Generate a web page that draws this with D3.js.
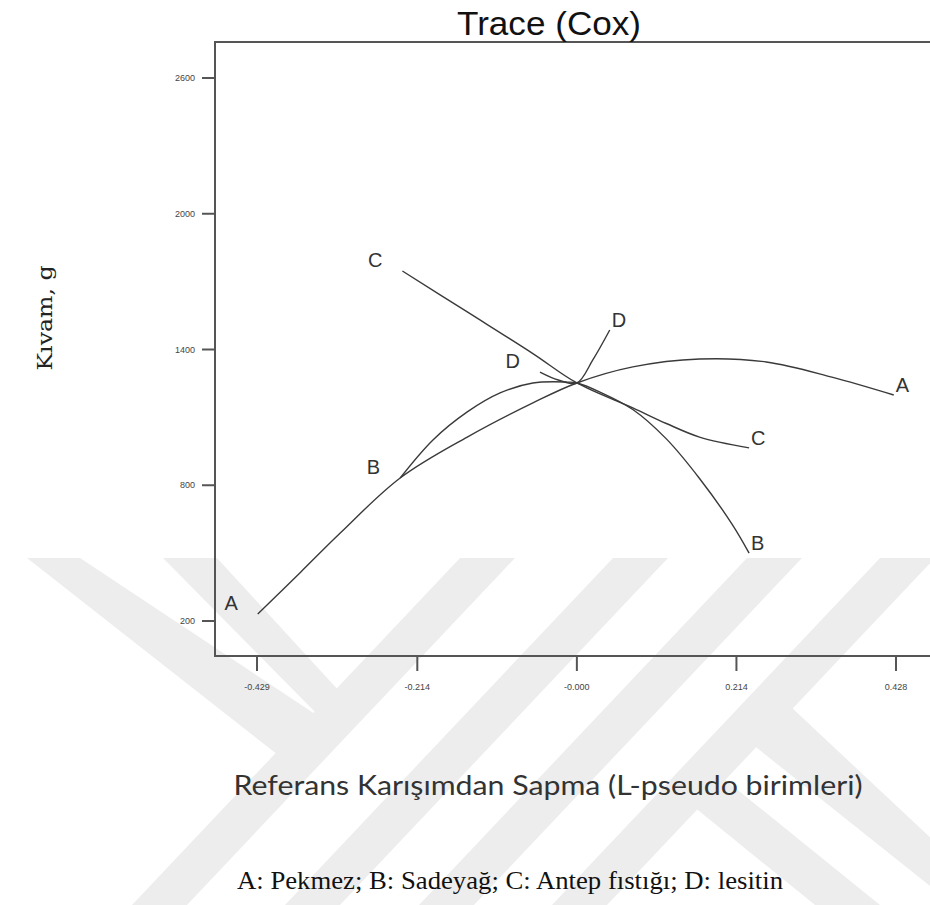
<!DOCTYPE html>
<html>
<head>
<meta charset="utf-8">
<script src="https://cdn.jsdelivr.net/npm/d3@7"></script>
<style>
  body { margin: 0; background: #fff; }
  svg { display: block; }
</style>
</head>
<body>
<div id="chart"></div>
<script>
// series names and values
const seriesNames = ["A", "B", "C", "D"];
const xA = [-0.428, -0.3705, -0.317, -0.237, -0.147, -0.059, 0, 0.075, 0.1645, 0.254, 0.342, 0.425];
const yA = [231, 416, 590, 832, 1013, 1164, 1252, 1323, 1358, 1345, 1278, 1199];
const xB = [-0.237, -0.193, -0.147, -0.103, -0.059, -0.013, 0, 0.031, 0.075, 0.12, 0.1645, 0.2087, 0.231];
const yB = [832, 1000, 1124, 1208, 1252, 1256, 1252, 1212, 1135, 1005, 830, 625, 500];
const xC = [-0.234, -0.147, -0.059, 0, 0.075, 0.12, 0.1645, 0.231];
const yC = [1747, 1566, 1382, 1252, 1142, 1073, 1013, 965];
const xD = [-0.0495, -0.025, 0, 0.0214, 0.0441];
const yD = [1300, 1265, 1252, 1354, 1486];

const xTicks = [-0.429, -0.214, 0, 0.214, 0.428];
const xTickLabels = ["-0.429", "-0.214", "-0.000", "0.214", "0.428"];
const yTicks = [200, 800, 1400, 2000, 2600];

const width = 930;
const height = 905;

const svg = d3
  .select("#chart")
  .append("svg")
  .attr("width", width)
  .attr("height", height)
  .attr("viewBox", [0, 0, width, height]);

// faint watermark in the background (decoration, not data)
const wm = svg.append("g").attr("fill", "#ededed");
const wmShapes = [
  [[460, 558], [515, 558], [187, 905], [132, 905]],
  [[613, 558], [668, 558], [340, 905], [285, 905]],
  [[747, 558], [802, 558], [474, 905], [419, 905]],
  [[880, 558], [935, 558], [607, 905], [552, 905]],
  [[27, 558], [80, 558], [321, 718], [278, 755]],
  [[163, 558], [217, 558], [340, 692], [321, 718]],
  [[752, 744], [790, 706], [935, 842], [935, 890]],
  [[688, 802], [718, 774], [880, 905], [815, 905]]
];
wm.selectAll("polygon")
  .data(wmShapes)
  .join("polygon")
  .attr("points", (d) => d.map((p) => p.join(",")).join(" "));

// scales
const x = d3.scaleLinear().domain([-0.429, 0.428]).range([257, 896]);
const y = d3.scaleLinear().domain([200, 2600]).range([621, 78]);

const box = { left: 215, top: 42, bottom: 656, right: 945 };

// frame
svg
  .append("path")
  .attr("d", `M${box.right},${box.top}H${box.left}V${box.bottom}H${box.right}`)
  .attr("fill", "none")
  .attr("stroke", "#555")
  .attr("stroke-width", 2);

// x axis ticks
const xAxis = svg.append("g").attr("transform", `translate(0,${box.bottom})`);
xAxis
  .selectAll("line")
  .data(xTicks)
  .join("line")
  .attr("x1", (d) => x(d))
  .attr("x2", (d) => x(d))
  .attr("y1", 0)
  .attr("y2", 15)
  .attr("stroke", "#555")
  .attr("stroke-width", 2);
xAxis
  .selectAll("text")
  .data(xTicks)
  .join("text")
  .attr("x", (d) => x(d))
  .attr("y", 34)
  .attr("text-anchor", "middle")
  .attr("font-family", "Liberation Sans Narrow, Arial, sans-serif")
  .attr("font-size", 9)
  .attr("fill", "#444")
  .text((d, i) => xTickLabels[i]);

// y axis ticks
const yAxis = svg.append("g").attr("transform", `translate(${box.left},0)`);
yAxis
  .selectAll("line")
  .data(yTicks)
  .join("line")
  .attr("x1", -13)
  .attr("x2", 0)
  .attr("y1", (d) => y(d))
  .attr("y2", (d) => y(d))
  .attr("stroke", "#555")
  .attr("stroke-width", 2);
yAxis
  .selectAll("text")
  .data(yTicks)
  .join("text")
  .attr("x", -20)
  .attr("y", (d) => y(d) + 3)
  .attr("text-anchor", "end")
  .attr("font-family", "Liberation Sans Narrow, Arial, sans-serif")
  .attr("font-size", 9)
  .attr("fill", "#444")
  .text((d) => d);

// traces
const series = [
  { name: seriesNames[0], xs: xA, ys: yA },
  { name: seriesNames[1], xs: xB, ys: yB },
  { name: seriesNames[2], xs: xC, ys: yC },
  { name: seriesNames[3], xs: xD, ys: yD }
];

const line = d3
  .line()
  .x((d) => x(d[0]))
  .y((d) => y(d[1]))
  .curve(d3.curveCatmullRom.alpha(0.5));

svg
  .append("g")
  .attr("fill", "none")
  .attr("stroke", "#3a3a3a")
  .attr("stroke-width", 1.4)
  .selectAll("path")
  .data(series)
  .join("path")
  .attr("d", (s) => line(s.xs.map((v, i) => [v, s.ys[i]])));

// end labels of each trace
const labels = svg
  .append("g")
  .attr("font-family", "Liberation Sans, Arial, sans-serif")
  .attr("font-size", 20)
  .attr("fill", "#333");
labels
  .selectAll("text.start")
  .data(series)
  .join("text")
  .attr("class", "start")
  .attr("x", (s) => x(s.xs[0]) - 20)
  .attr("y", (s) => y(s.ys[0]) - 4)
  .attr("text-anchor", "end")
  .text((s) => s.name);
labels
  .selectAll("text.end")
  .data(series)
  .join("text")
  .attr("class", "end")
  .attr("x", (s) => x(s.xs[s.xs.length - 1]) + 2)
  .attr("y", (s) => y(s.ys[s.ys.length - 1]) - 3)
  .attr("text-anchor", "start")
  .text((s) => s.name);

// title
svg
  .append("text")
  .attr("x", 549)
  .attr("y", 35)
  .attr("text-anchor", "middle")
  .attr("font-family", "Liberation Sans, Arial, sans-serif")
  .attr("font-size", 34)
  .attr("textLength", 184)
  .attr("lengthAdjust", "spacingAndGlyphs")
  .attr("fill", "#111")
  .text("Trace (Cox)");

// y axis title
svg
  .append("text")
  .attr("transform", "translate(52,318) rotate(-90)")
  .attr("text-anchor", "middle")
  .attr("font-family", "DejaVu Serif, Liberation Serif, serif")
  .attr("font-size", 20)
  .attr("textLength", 105)
  .attr("lengthAdjust", "spacingAndGlyphs")
  .attr("fill", "#222")
  .text("Kıvam, g");

// x axis title
svg
  .append("text")
  .attr("x", 548)
  .attr("y", 795)
  .attr("text-anchor", "middle")
  .attr("font-family", "Lato, Open Sans, sans-serif")
  .attr("font-size", 26)
  .attr("textLength", 629)
  .attr("lengthAdjust", "spacingAndGlyphs")
  .attr("fill", "#333")
  .text("Referans Karışımdan Sapma (L-pseudo birimleri)");

// caption
svg
  .append("text")
  .attr("x", 510)
  .attr("y", 889)
  .attr("text-anchor", "middle")
  .attr("font-family", "Liberation Serif, Times New Roman, serif")
  .attr("font-size", 25)
  .attr("textLength", 546)
  .attr("lengthAdjust", "spacingAndGlyphs")
  .attr("fill", "#111")
  .text("A: Pekmez; B: Sadeyağ; C: Antep fıstığı; D: lesitin");
</script>
</body>
</html>
